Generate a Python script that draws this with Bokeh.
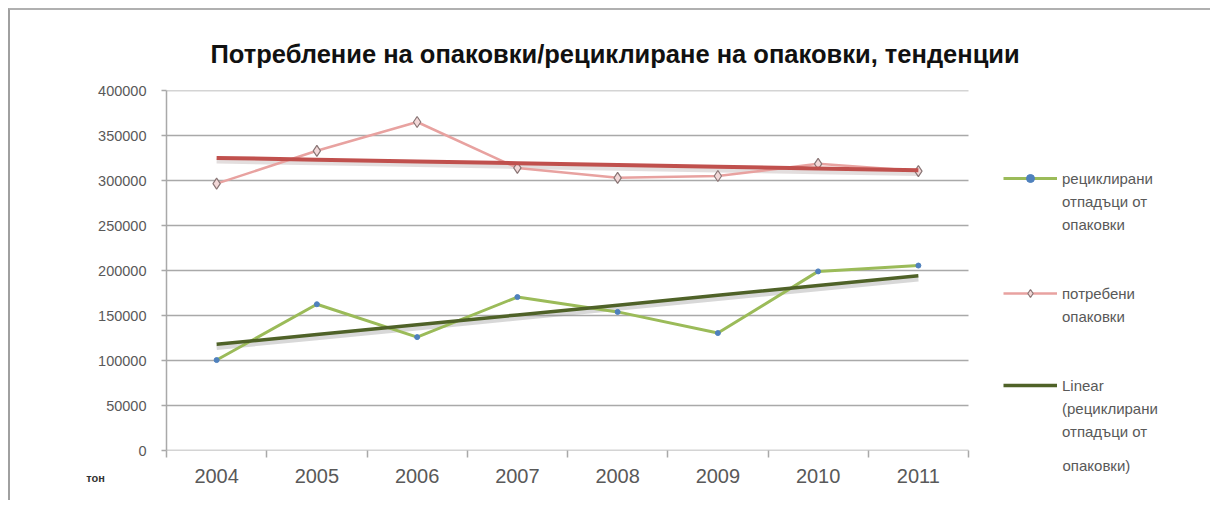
import numpy as np
from bokeh.plotting import figure
from bokeh.models import (ColumnDataSource, Range1d, FixedTicker, BasicTickFormatter,
                          Legend, LegendItem, Label)
from bokeh.transform import dodge
from bokeh.embed import file_html
from bokeh.resources import INLINE

# ---- data ----
years = [2004, 2005, 2006, 2007, 2008, 2009, 2010, 2011]
recycled = [100500, 162500, 126000, 170500, 154000, 130500, 199000, 205500]
consumed = [296500, 333000, 365000, 314000, 303000, 305000, 318500, 310500]
y_ticks = [0, 50000, 100000, 150000, 200000, 250000, 300000, 350000, 400000]
title_text = "Потребление на опаковки/рециклиране на опаковки, тенденции"
unit_text = "тон"
legend_recycled = ["рециклирани", "отпадъци от", "опаковки"]
legend_consumed = ["потребени", "опаковки"]
legend_trend = ["Linear", "(рециклирани", "отпадъци от", "опаковки)"]

# linear trends (Excel style least squares)
yr = np.array(years, dtype=float)
c_rec = np.polyfit(yr, recycled, 1)
c_con = np.polyfit(yr, consumed, 1)
trend_rec = list(np.polyval(c_rec, yr))
trend_con = list(np.polyval(c_con, yr))

src = ColumnDataSource(dict(x=years, rec=recycled, con=consumed,
                            trec=trend_rec, tcon=trend_con))

FONT = "Liberation Sans"
GRAY = "#595959"
GRID = "#a9a9a9"

x_lo = years[0] - 0.5
x_hi = years[-1] + 0.5
# the frame is extended to the right so that the legend area lies inside it
x_end = x_hi + (x_hi - x_lo) * (1046 - 802) / 802

p = figure(width=1202, height=492, output_backend="svg", toolbar_location=None,
           x_range=Range1d(x_lo, x_end), y_range=Range1d(0, y_ticks[-1]),
           min_border_left=156, min_border_right=0, min_border_top=80,
           min_border_bottom=50)
p.styles = {"border-left": "2px solid #a0a0a0", "border-top": "2px solid #b0b0b0",
            "margin-left": "8px", "margin-top": "8px"}
p.outline_line_color = None
p.background_fill_color = "white"
p.border_fill_color = "white"

p.title.text = title_text
p.title.align = "left"
p.title.offset = 44
p.title.vertical_align = "middle"
p.title.text_font = FONT
p.title.text_font_size = "25.5px"
p.title.text_font_style = "bold"
p.title.text_color = "#111111"
p.title.standoff = 44

# axes
p.xaxis.ticker = FixedTicker(ticks=years, minor_ticks=[y - 0.5 for y in years] + [x_hi])
p.xaxis.major_tick_line_color = None
p.xaxis.minor_tick_line_color = GRID
p.xaxis.minor_tick_line_width = 1.5
p.xaxis.minor_tick_out = 7
p.xaxis.minor_tick_in = 0
p.xaxis.axis_line_color = None
p.xaxis.major_label_text_font = FONT
p.xaxis.major_label_text_font_size = "20px"
p.xaxis.major_label_text_color = GRAY
p.xaxis.major_label_standoff = 11

p.yaxis.ticker = FixedTicker(ticks=y_ticks)
p.yaxis.formatter = BasicTickFormatter(use_scientific=False)
p.yaxis.minor_tick_line_color = None
p.yaxis.major_tick_line_color = GRID
p.yaxis.major_tick_line_width = 1.5
p.yaxis.major_tick_out = 5
p.yaxis.major_tick_in = 0
p.yaxis.axis_line_color = GRID
p.yaxis.axis_line_width = 1.5
p.yaxis.major_label_text_font = FONT
p.yaxis.major_label_text_font_size = "14.5px"
p.yaxis.major_label_text_color = GRAY
p.yaxis.major_label_standoff = 15

p.xgrid.grid_line_color = None
p.ygrid.grid_line_color = None
# horizontal gridlines only across the plotting area
p.segment(x0=[x_lo] * len(y_ticks), x1=[x_hi] * len(y_ticks), y0=y_ticks, y1=y_ticks,
          line_color=GRID, line_width=1.5)

# trend shadows
p.line("x", dodge("tcon", -3500), source=src, line_color="#b0a0a0", line_width=5, line_alpha=0.35)
p.line("x", dodge("trec", -3500), source=src, line_color="#909090", line_width=5, line_alpha=0.35)

# series
r_con_line = p.line("x", "con", source=src, line_color="#e8a2a0", line_width=2.5)
r_con_pts = p.scatter("x", "con", source=src, marker="diamond", size=11,
                      fill_color="#f2d8d8", line_color="#8a7676", line_width=1.2)
r_con_trend = p.line("x", "tcon", source=src, line_color="#c0504d", line_width=4)

r_rec_line = p.line("x", "rec", source=src, line_color="#9bbb59", line_width=3)
r_rec_pts = p.scatter("x", "rec", source=src, marker="circle", size=5,
                      fill_color="#4f81bd", line_color="#4f81bd")
r_rec_trend = p.line("x", "trec", source=src, line_color="#4f6228", line_width=3.5)

# legend
dummy = p.line(x=[], y=[], line_alpha=0)
items = []
items.append(LegendItem(label=legend_recycled[0], renderers=[r_rec_line, r_rec_pts]))
for t in legend_recycled[1:]:
    items.append(LegendItem(label=t, renderers=[dummy]))
items.append(LegendItem(label=" ", renderers=[dummy]))
items.append(LegendItem(label="  ", renderers=[dummy]))
items.append(LegendItem(label=legend_consumed[0], renderers=[r_con_line, r_con_pts]))
for t in legend_consumed[1:]:
    items.append(LegendItem(label=t + " ", renderers=[dummy]))
items.append(LegendItem(label="   ", renderers=[dummy]))
items.append(LegendItem(label="    ", renderers=[dummy]))
items.append(LegendItem(label=legend_trend[0], renderers=[r_rec_trend]))
for t in legend_trend[1:3]:
    items.append(LegendItem(label=t + "  ", renderers=[dummy]))

legend = Legend(items=items, location=(837, 9), orientation="vertical",
                label_text_font=FONT, label_text_font_size="15px",
                label_text_color=GRAY, label_height=20, glyph_height=20,
                glyph_width=54, label_standoff=5, spacing=3, padding=0, margin=0,
                border_line_color=None, background_fill_alpha=0)
p.add_layout(legend, "center")

# last legend line (below the frame bottom)
p.add_layout(Label(x=896, y=37, x_units="screen", y_units="screen", text=legend_trend[3],
                   text_align="left", text_baseline="middle", text_font=FONT,
                   text_font_size="15px", text_color=GRAY, text_line_height=0.8), "below")

# unit label under the y axis
p.add_layout(Label(x=19, y=-27, x_units="screen", y_units="screen", text=unit_text,
                   text_align="center", text_baseline="middle", text_font=FONT,
                   text_font_size="11px", text_font_style="bold", text_color="#333333"),
             "left")

open("out.html", "w").write(file_html(p, INLINE))
